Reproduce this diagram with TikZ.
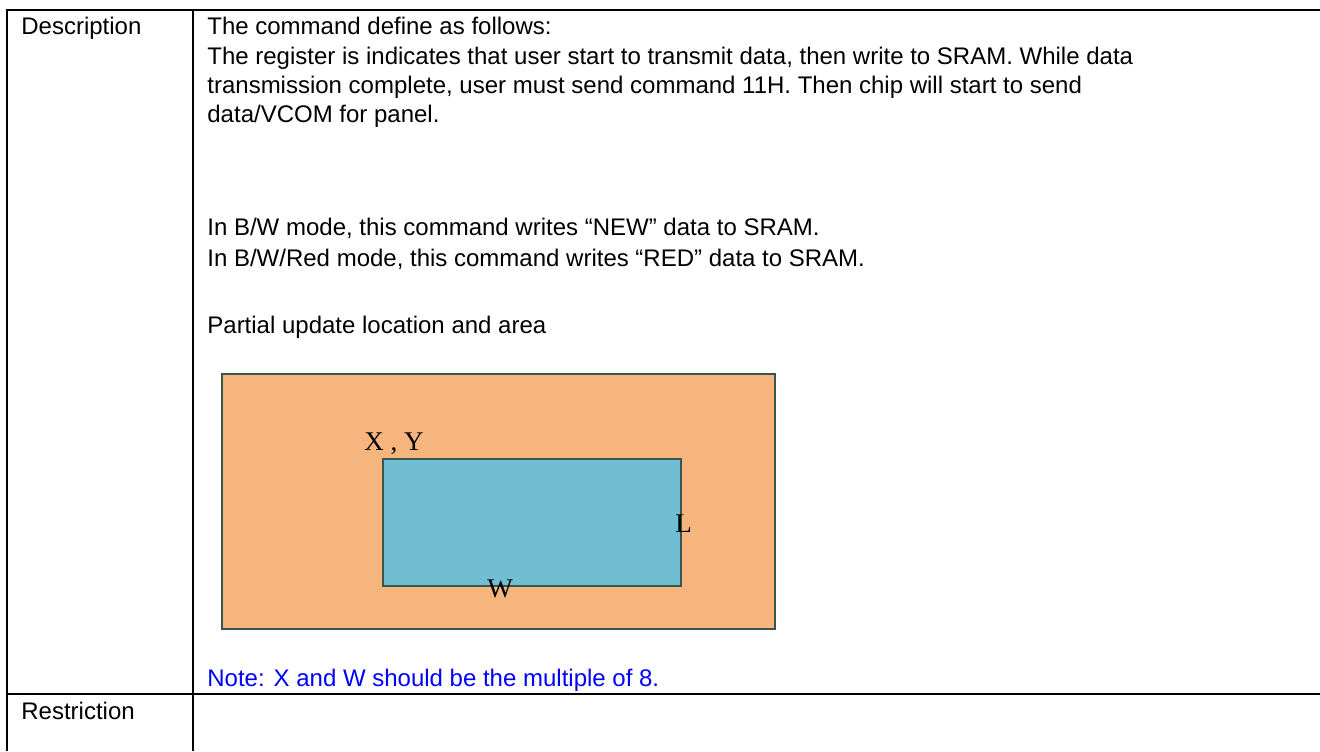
\documentclass[tikz,border=0pt]{standalone}
\usepackage{fontspec}
\setmainfont{Liberation Sans}
\newfontfamily\labelfont{Liberation Serif}

\definecolor{panelfill}{RGB}{247,181,126}
\definecolor{areafill}{RGB}{113,189,210}
\definecolor{boxline}{RGB}{55,85,75}
\definecolor{notecolor}{RGB}{0,0,255}

\tikzset{
  txt/.style={anchor=base west,inner sep=0pt,font=\fontsize{12}{14.4}\selectfont},
  lbl/.style={anchor=base west,inner sep=0pt,font=\labelfont\fontsize{13.5}{16}\selectfont},
  rule/.style={line width=1.4pt},
  plate/.style={draw=boxline,line width=0.6pt},
}

\begin{document}
\begin{tikzpicture}[x=0.5pt,y=-0.5pt]
    \useasboundingbox (0,0) rectangle (1320,751);

    % table rules
    \draw[rule] (7,10) -- (1320,10);
    \draw[rule] (7,694) -- (1320,694);
    \draw[rule] (7,9.3) -- (7,751);
    \draw[rule] (193,9.3) -- (193,751);

    % left column
    \node[txt] (desc) at (21,34) {Description};
    \node[txt] (restr) at (21,719) {Restriction};

    % description text
    \node[txt] (line1) at (207,34) {The command define as follows:};
    \node[txt] (line2) at (207,64) {The register is indicates that user start to transmit data, then write to SRAM. While data};
    \node[txt] (line3) at (207,93) {transmission complete, user must send command 11H. Then chip will start to send};
    \node[txt] (line4) at (207,122) {data/VCOM for panel.};
    \node[txt] (bw) at (207,235) {In B/W mode, this command writes “NEW” data to SRAM.};
    \node[txt] (bwr) at (207,266) {In B/W/Red mode, this command writes “RED” data to SRAM.};
    \node[txt] (partial) at (207,333) {Partial update location and area};

    % panel and update area
    \draw[plate,fill=panelfill] (222,374) rectangle (775,629);
    \draw[plate,fill=areafill] (383,459) rectangle (681,586);
    \node[lbl] (xy) at (364,450) {X , Y};
    \node[lbl] (len) at (675,532) {L};
    \node[lbl] (wid) at (487,597) {W};

    \node[txt,text=notecolor] (note) at (207,686) {Note: X and W should be the multiple of 8.};
\end{tikzpicture}
\end{document}
